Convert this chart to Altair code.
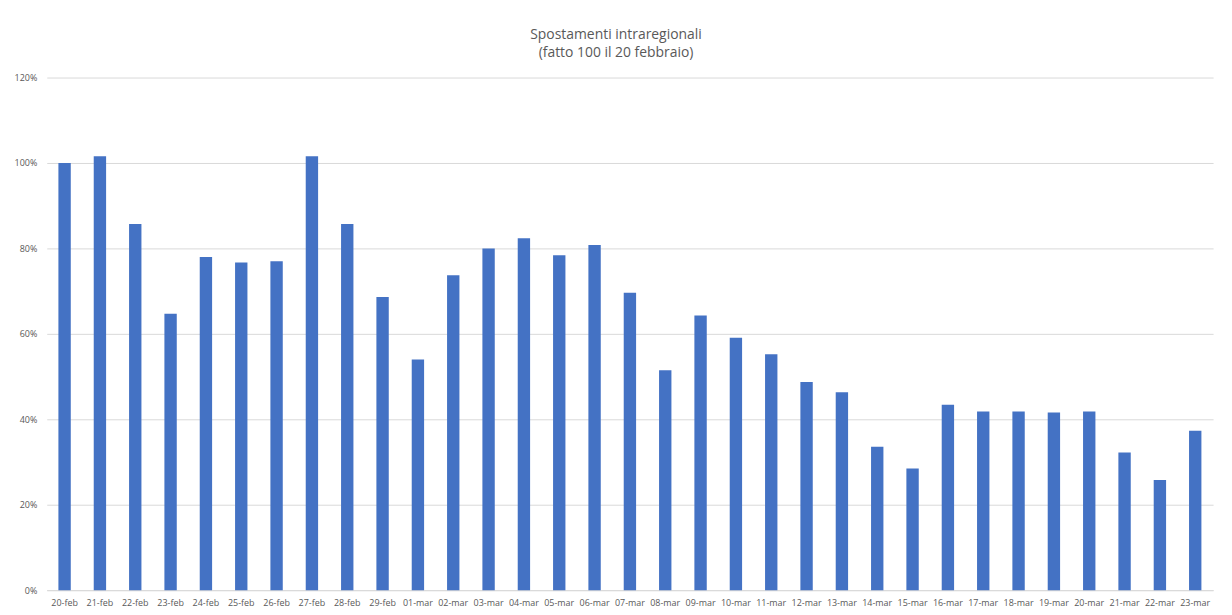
import altair as alt
import pandas as pd

days = ["20-feb", "21-feb", "22-feb", "23-feb", "24-feb", "25-feb", "26-feb", "27-feb",
        "28-feb", "29-feb", "01-mar", "02-mar", "03-mar", "04-mar", "05-mar", "06-mar",
        "07-mar", "08-mar", "09-mar", "10-mar", "11-mar", "12-mar", "13-mar", "14-mar",
        "15-mar", "16-mar", "17-mar", "18-mar", "19-mar", "20-mar", "21-mar", "22-mar",
        "23-mar"]
values = [100.0, 101.6, 85.7, 64.7, 78.0, 76.7, 77.0, 101.6,
          85.7, 68.6, 54.0, 73.7, 80.0, 82.4, 78.4, 80.8,
          69.6, 51.5, 64.3, 59.1, 55.2, 48.7, 46.3, 33.6,
          28.5, 43.4, 41.8, 41.8, 41.6, 41.8, 32.2, 25.8,
          37.3]
y_ticks = [0, 0.2, 0.4, 0.6, 0.8, 1.0, 1.2]

df = pd.DataFrame({"giorno": days, "valore": [v / 100 for v in values]})

FONT = "Open Sans"
GREY = "#595959"

bars = alt.Chart(df).mark_bar(color="#4472C4").encode(
    x=alt.X("giorno:N", sort=days, title=None,
            scale=alt.Scale(paddingInner=0.65, paddingOuter=0.33),
            axis=alt.Axis(labelAngle=0, labelFontSize=9, labelColor=GREY, labelFont=FONT,
                          labelOverlap=False, ticks=False, domainColor="#d9d9d9",
                          labelPadding=8, grid=False)),
    y=alt.Y("valore:Q", title=None,
            scale=alt.Scale(domain=[0, 1.2], nice=False),
            axis=alt.Axis(values=y_ticks, format=".0%", labelFontSize=9, labelColor=GREY,
                          labelFont=FONT, domain=False, ticks=False, labelPadding=10,
                          gridColor="#d9d9d9")),
).properties(
    width=1174, height=516,
    background="white",
    autosize=alt.AutoSizeParams(type="none"),
    padding={"left": 39, "top": 68, "right": 11, "bottom": 22},
    title=alt.TitleParams(
        text="Spostamenti intraregionali",
        subtitle="(fatto 100 il 20 febbraio)",
        font=FONT, fontSize=14, fontWeight="normal", color=GREY,
        subtitleFont=FONT, subtitleFontSize=14, subtitleColor=GREY,
        subtitlePadding=4, anchor="middle", offset=14, dx=-14,
    ),
)

chart = bars.configure_view(stroke="transparent", strokeWidth=0)

chart.save("out.html", embed_options={"renderer": "svg", "actions": False})
